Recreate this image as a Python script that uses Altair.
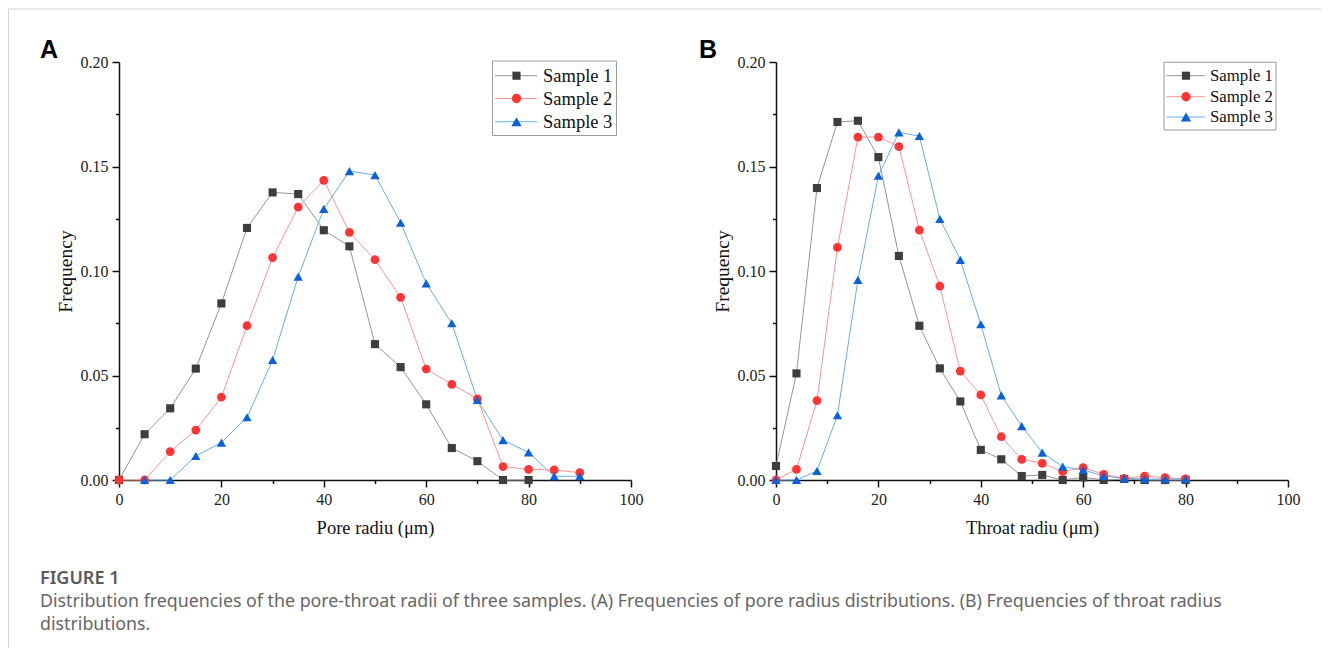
import altair as alt
import pandas as pd

# ---------------- data ----------------
SERIES = ["Sample 1", "Sample 2", "Sample 3"]

# Panel A : pore radius (um) vs frequency
A_S1_X = [0, 5, 10, 15, 20, 25, 30, 35, 40, 45, 50, 55, 60, 65, 70, 75, 80]
A_S1_Y = [0.0, 0.0219, 0.0343, 0.0533, 0.0845, 0.1206, 0.1376, 0.1368, 0.1195,
          0.1118, 0.0650, 0.0540, 0.0362, 0.0153, 0.0090, 0.0, 0.0]
A_S2_X = [0, 5, 10, 15, 20, 25, 30, 35, 40, 45, 50, 55, 60, 65, 70, 75, 80, 85, 90]
A_S2_Y = [0.0, 0.0, 0.0136, 0.0239, 0.0396, 0.0738, 0.1064, 0.1306, 0.1434, 0.1185,
          0.1054, 0.0874, 0.0531, 0.0458, 0.0388, 0.0064, 0.0051, 0.0048, 0.0035]
A_S3_X = [5, 10, 15, 20, 25, 30, 35, 40, 45, 50, 55, 60, 65, 70, 75, 80, 85, 90]
A_S3_Y = [0.0, 0.0, 0.0115, 0.0179, 0.0300, 0.0574, 0.0973, 0.1297, 0.1478, 0.1459,
          0.1231, 0.0941, 0.0750, 0.0383, 0.0191, 0.0132, 0.0018, 0.0018]

# Panel B : throat radius (um) vs frequency
B_X = [0, 4, 8, 12, 16, 20, 24, 28, 32, 36, 40, 44, 48, 52, 56, 60, 64, 68, 72, 76, 80]
B_S1_Y = [0.0067, 0.0510, 0.1397, 0.1713, 0.1719, 0.1545, 0.1072, 0.0738, 0.0534,
          0.0376, 0.0144, 0.0099, 0.0019, 0.0024, 0.0, 0.0013, 0.0, 0.0005, 0.0, 0.0, 0.0]
B_S2_Y = [0.0, 0.0051, 0.0380, 0.1113, 0.1641, 0.1641, 0.1595, 0.1196, 0.0928,
          0.0521, 0.0407, 0.0207, 0.0099, 0.0080, 0.0040, 0.0059, 0.0027, 0.0008,
          0.0019, 0.0011, 0.0005]
B_S3_Y = [0.0, 0.0, 0.0043, 0.0310, 0.0957, 0.1456, 0.1663, 0.1646, 0.1249,
          0.1053, 0.0745, 0.0405, 0.0258, 0.0131, 0.0064, 0.0048, 0.0019, 0.0008,
          0.0005, 0.0005, 0.0005]

X_TICKS = [0, 10, 20, 30, 40, 50, 60, 70, 80, 90, 100]
Y_TICKS = [0.0, 0.025, 0.05, 0.075, 0.1, 0.125, 0.15, 0.175, 0.2]

CAPTION_TITLE = "FIGURE 1"
CAPTION_L1 = ("Distribution frequencies of the pore-throat radii of three samples. (A) Frequencies "
              "of pore radius distributions. (B) Frequencies of throat radius")
CAPTION_L2 = "distributions."

# ---------------- styles ----------------
MARKER_COLORS = ["#3d3d3d", "#ff3535", "#0a62d6"]
LINE_COLORS = ["#959595", "#ff9494", "#66adf0"]
SHAPES = ["square", "circle", "triangle-up"]
SIZES = [66, 88, 108]
SERIF = "Liberation Serif"
SANS = "Liberation Sans"
W, H = 512, 418


def long_df(pairs):
    rows = []
    for name, xs, ys in pairs:
        for xv, yv in zip(xs, ys):
            rows.append({"series": name, "r": xv, "f": yv})
    return pd.DataFrame(rows)


df_a = long_df([(SERIES[0], A_S1_X, A_S1_Y), (SERIES[1], A_S2_X, A_S2_Y),
                (SERIES[2], A_S3_X, A_S3_Y)])
df_b = long_df([(SERIES[0], B_X, B_S1_Y), (SERIES[1], B_X, B_S2_Y),
                (SERIES[2], B_X, B_S3_Y)])

one = pd.DataFrame({"k": [0]})


def text_layer(txt, x, y, **kw):
    return alt.Chart(one).mark_text(text=txt, **kw).encode(x=alt.value(x), y=alt.value(y))


def panel(df, xtitle, letter, leg):
    x = alt.X("r:Q", scale=alt.Scale(domain=[0, 100], nice=False),
              axis=alt.Axis(values=X_TICKS, format="d", labelFlush=False,
                            labelExpr="datum.value % 20 === 0 ? datum.label : ''",
                            tickSize={"condition": {"test": "datum.value % 20 !== 0", "value": 3.5},
                                      "value": 7},
                            title=xtitle, labelPadding=4, titlePadding=11))
    y = alt.Y("f:Q", scale=alt.Scale(domain=[0, 0.2], nice=False),
              axis=alt.Axis(values=Y_TICKS, format=".2f", labelFlush=False,
                            labelExpr="round(datum.value*1000) % 50 === 0 ? datum.label : ''",
                            tickSize={"condition": {"test": "round(datum.value*1000) % 50 !== 0",
                                                    "value": 3.5},
                                      "value": 7},
                            title="Frequency", labelPadding=4, titlePadding=5,
                            titleFontSize=19.5))
    base = alt.Chart(df)
    lines = base.mark_line(strokeWidth=1).encode(
        x=x, y=y,
        stroke=alt.Stroke("series:N", scale=alt.Scale(domain=SERIES, range=LINE_COLORS), legend=None),
        order="r:Q")
    pts = base.mark_point(filled=True, opacity=1, strokeWidth=0).encode(
        x=x, y=y,
        fill=alt.Fill("series:N", scale=alt.Scale(domain=SERIES, range=MARKER_COLORS), legend=None),
        shape=alt.Shape("series:N", scale=alt.Scale(domain=SERIES, range=SHAPES), legend=None),
        size=alt.Size("series:O", scale=alt.Scale(domain=SERIES, range=SIZES), legend=None))

    layers = [lines, pts]
    # legend box
    layers.append(alt.Chart(one).mark_rect(fill="white", stroke="#9a9a9a", strokeWidth=1).encode(
        x=alt.value(leg["box"][0]), x2=alt.value(leg["box"][1]),
        y=alt.value(leg["box"][2]), y2=alt.value(leg["box"][3])))
    for i, name in enumerate(SERIES):
        ry = leg["rows"][i]
        layers.append(alt.Chart(one).mark_rule(color=LINE_COLORS[i], strokeWidth=1).encode(
            x=alt.value(leg["line"][0]), x2=alt.value(leg["line"][1]), y=alt.value(ry)))
        layers.append(alt.Chart(one).mark_point(filled=True, opacity=1, strokeWidth=0,
                                                shape=SHAPES[i], size=SIZES[i],
                                                color=MARKER_COLORS[i]).encode(
            x=alt.value(leg["marker"]), y=alt.value(ry)))
        layers.append(text_layer(name, leg["text"], ry, align="left", baseline="middle",
                                 font=SERIF, fontSize=leg["fs"], color="#111"))
    # panel letter
    layers.append(text_layer(letter, leg["letter_x"], -12, align="center", baseline="middle",
                             font=SANS, fontSize=25, fontWeight="bold", color="#000"))
    return layers


leg_a = {"box": [373.5, 497.5, -1, 73.5], "rows": [13.7, 36.5, 59.7], "line": [376, 418],
         "marker": 397.5, "text": 424, "fs": 18.5, "letter_x": -70}
leg_b = {"box": [388, 500, 0.3, 68], "rows": [13.7, 34.7, 55], "line": [390.5, 429],
         "marker": 410, "text": 434, "fs": 16.8, "letter_x": -68}

layers_a = panel(df_a, "Pore radiu (μm)", "A", leg_a)
layers_b = panel(df_b, "Throat radiu (μm)", "B", leg_b)

# page frame and caption (drawn in panel A's coordinates)
BORDER = "#d4d4d4"
layers_a.append(alt.Chart(one).mark_rule(color=BORDER, strokeWidth=1).encode(
    x=alt.value(-110.5), y=alt.value(-53), y2=alt.value(586)))
layers_a.append(alt.Chart(one).mark_rule(color=BORDER, strokeWidth=1).encode(
    x=alt.value(-110.5), x2=alt.value(1202), y=alt.value(-53)))
layers_a.append(text_layer(CAPTION_TITLE, -79, 521.5, align="left", baseline="alphabetic",
                           font="Noto Sans", fontSize=18, fontWeight=600, color="#5a5a5a"))
layers_a.append(text_layer(CAPTION_L1, -79, 545, align="left", baseline="alphabetic",
                           font="Noto Sans", fontSize=17.8, color="#666"))
layers_a.append(text_layer(CAPTION_L2, -79, 568, align="left", baseline="alphabetic",
                           font="Noto Sans", fontSize=17.8, color="#666"))

panel_a = alt.layer(*layers_a).properties(width=W, height=H)
panel_b = alt.layer(*layers_b).properties(width=W, height=H)

chart = (
    alt.hconcat(panel_a, panel_b, spacing=145, bounds="flush")
    .properties(padding=0, background="white")
    .configure_view(stroke=None)
    .configure_axis(grid=False, domainColor="#111", domainWidth=1.5, tickColor="#111",
                    tickWidth=1.5, labelFont=SERIF, labelFontSize=16, labelColor="#222",
                    titleFont=SERIF, titleFontSize=18.5, titleFontWeight="normal",
                    titleColor="#111")
)

chart.save("out.html", embed_options={"renderer": "svg", "actions": False})
